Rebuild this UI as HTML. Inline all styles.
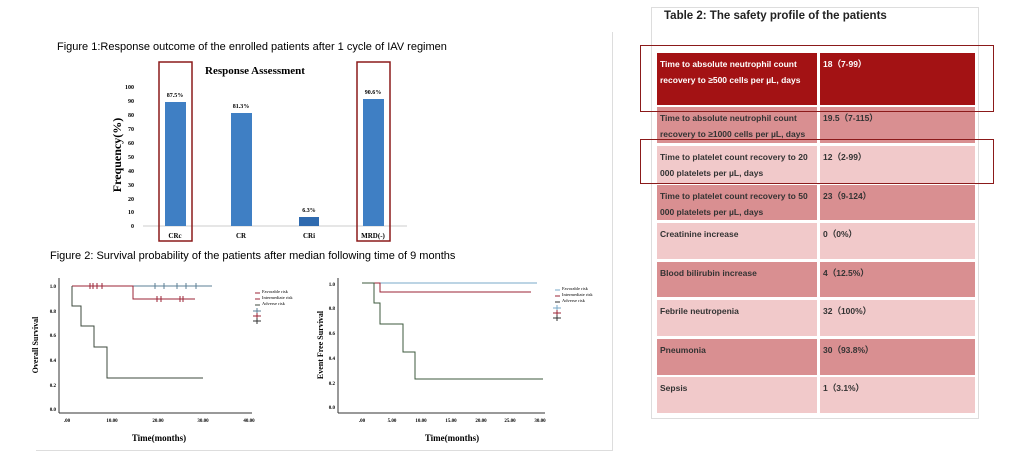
<!DOCTYPE html>
<html><head><meta charset="utf-8"><style>
body{margin:0;width:1024px;height:460px;background:#fff;position:relative;overflow:hidden;font-family:"Liberation Sans",sans-serif}
.t{position:absolute}
.r{position:absolute;left:657px;width:318px;font-size:8.5px;font-weight:bold;line-height:16px;overflow:hidden}
.r div{position:absolute;top:0;bottom:0;padding:3px 3px;box-sizing:border-box;overflow:hidden}
.r .a{left:0;width:160px}.r .b{left:163px;right:0}
.d div{background:#a31214;color:#fff}
.m div{background:#d98f91;color:#333}
.l div{background:#f1c9ca;color:#333}
</style></head><body>
<div class="t" style="left:36px;top:32px;width:576px;height:418px;border-right:1px solid #ddd;border-bottom:1px solid #ddd"></div>
<div class="t" style="left:57px;top:41px;font-size:11px">Figure 1:Response outcome of the enrolled patients after 1 cycle of IAV regimen</div>
<div class="t" style="left:50px;top:250px;font-size:11px">Figure 2: Survival probability of the patients after median following time of 9 months</div>
<svg class="t" style="left:0;top:0" width="620" height="460" font-family="Liberation Serif,serif" font-weight="bold">
<text x="255" y="74" font-size="11" text-anchor="middle">Response Assessment</text>
<g font-size="6" text-anchor="end">
<text x="134" y="89">100</text><text x="134" y="103">90</text><text x="134" y="117">80</text><text x="134" y="131">70</text><text x="134" y="145">60</text><text x="134" y="159">50</text><text x="134" y="173">40</text><text x="134" y="187">30</text><text x="134" y="201">20</text><text x="134" y="214">10</text><text x="134" y="228">0</text>
</g>
<text transform="translate(121,155) rotate(-90)" font-size="12" text-anchor="middle">Frequency(%)</text>
<line x1="143" y1="226" x2="407" y2="226" stroke="#ccc"/>
<g fill="#3f7fc4">
<rect x="165" y="102" width="21" height="124"/><rect x="231" y="113" width="21" height="113"/><rect x="299" y="217" width="20" height="9" fill="#2f6aaf"/><rect x="363" y="99" width="21" height="127"/>
</g>
<g font-size="6" text-anchor="middle">
<text x="175" y="97">87.5%</text><text x="241" y="108">81.3%</text><text x="309" y="212">6.3%</text><text x="373" y="94">90.6%</text>
<text x="175" y="238" font-size="7">CRc</text><text x="241" y="238" font-size="7">CR</text><text x="309" y="238" font-size="7">CRi</text><text x="373" y="238" font-size="7">MRD(-)</text>
</g>
<rect x="159" y="62" width="33" height="179" fill="none" stroke="#8b1a1a" stroke-width="1.5"/>
<rect x="357" y="62" width="33" height="179" fill="none" stroke="#8b1a1a" stroke-width="1.5"/>
<line x1="59" y1="278" x2="59" y2="413" stroke="#333"/><line x1="59" y1="413" x2="252" y2="413" stroke="#333"/>
<g font-size="5" text-anchor="end"><text x="56" y="288">1.0</text><text x="56" y="313">0.8</text><text x="56" y="337">0.6</text><text x="56" y="362">0.4</text><text x="56" y="387">0.2</text><text x="56" y="411">0.0</text></g>
<g font-size="5" text-anchor="middle"><text x="67" y="422">.00</text><text x="112" y="422">10.00</text><text x="158" y="422">20.00</text><text x="203" y="422">30.00</text><text x="249" y="422">40.00</text></g>
<text transform="translate(38,345) rotate(-90)" font-size="8" text-anchor="middle">Overall Survival</text>
<text x="159" y="441" font-size="9" text-anchor="middle">Time(months)</text>
<polyline points="72,286 212,286" fill="none" stroke="#5b7f95"/>
<polyline points="72,286 133,286 133,299 195,299" fill="none" stroke="#9b2335"/>
<polyline points="72,286 72,306 81,306 81,326 94,326 94,347 107,347 107,378 203,378" fill="none" stroke="#3c4a3c"/>
<g stroke="#9b2335"><line x1="90" y1="283" x2="90" y2="289"/><line x1="93" y1="283" x2="93" y2="289"/><line x1="97" y1="283" x2="97" y2="289"/><line x1="102" y1="283" x2="102" y2="289"/><line x1="157" y1="296" x2="157" y2="302"/><line x1="161" y1="296" x2="161" y2="302"/><line x1="180" y1="296" x2="180" y2="302"/><line x1="183" y1="296" x2="183" y2="302"/></g>
<g stroke="#5b7f95"><line x1="155" y1="283" x2="155" y2="289"/><line x1="164" y1="283" x2="164" y2="289"/><line x1="177" y1="283" x2="177" y2="289"/><line x1="186" y1="283" x2="186" y2="289"/><line x1="196" y1="283" x2="196" y2="289"/></g>
<g font-size="4.5" font-weight="normal"><text x="262" y="293">Favorable risk</text><text x="262" y="299">Intermediate risk</text><text x="262" y="305">Adverse risk</text></g>
<g stroke-width="1"><path d="M255,293h5M255,299h5" stroke="#9b2335"/><path d="M255,305h5" stroke="#3c4a3c"/><path d="M253,311h8M257,308v6" stroke="#5b7f95"/><path d="M253,316h8M257,313v6" stroke="#9b2335"/><path d="M253,321h8M257,318v6" stroke="#333"/></g>
<line x1="338" y1="278" x2="338" y2="413" stroke="#333"/><line x1="338" y1="413" x2="545" y2="413" stroke="#333"/>
<g font-size="5" text-anchor="end"><text x="335" y="286">1.0</text><text x="335" y="310">0.8</text><text x="335" y="335">0.6</text><text x="335" y="360">0.4</text><text x="335" y="385">0.2</text><text x="335" y="409">0.0</text></g>
<g font-size="5" text-anchor="middle"><text x="362" y="422">.00</text><text x="392" y="422">5.00</text><text x="421" y="422">10.00</text><text x="451" y="422">15.00</text><text x="481" y="422">20.00</text><text x="510" y="422">25.00</text><text x="540" y="422">30.00</text></g>
<text transform="translate(323,345) rotate(-90)" font-size="8" text-anchor="middle">Event Free Survival</text>
<text x="452" y="441" font-size="9" text-anchor="middle">Time(months)</text>
<polyline points="362,283 537,283" fill="none" stroke="#7aa9c9"/>
<polyline points="362,283 380,283 380,292 531,292" fill="none" stroke="#9b2335"/>
<polyline points="362,283 374,283 374,303 380,303 380,324 403,324 403,352 415,352 415,379 543,379" fill="none" stroke="#3c5a3c"/>
<g font-size="4.5" font-weight="normal"><text x="562" y="290">Favorable risk</text><text x="562" y="296">Intermediate risk</text><text x="562" y="302">Adverse risk</text></g>
<g><path d="M555,290h5" stroke="#7aa9c9"/><path d="M555,296h5" stroke="#9b2335"/><path d="M555,302h5" stroke="#333"/><path d="M553,308h8M557,305v6" stroke="#7aa9c9"/><path d="M553,313h8M557,310v6" stroke="#9b2335"/><path d="M553,318h8M557,315v6" stroke="#333"/></g>
</svg>
<div class="t" style="left:651px;top:7px;width:326px;height:410px;border:1px solid #ddd"></div>
<div class="t" style="left:664px;top:10px;font-size:11.5px;font-weight:bold;color:#222">Table 2: The safety profile of the patients</div>
<div class="r d" style="top:53px;height:52px"><div class="a">Time to absolute neutrophil count recovery to ≥500 cells per µL, days</div><div class="b">18（7-99）</div></div>
<div class="r m" style="top:107px;height:36px"><div class="a">Time to absolute neutrophil count recovery to ≥1000 cells per µL, days</div><div class="b">19.5（7-115）</div></div>
<div class="r l" style="top:146px;height:37px"><div class="a">Time to platelet count recovery to 20 000 platelets per µL, days</div><div class="b">12（2-99）</div></div>
<div class="r m" style="top:185px;height:35px"><div class="a">Time to platelet count recovery to 50 000 platelets per µL, days</div><div class="b">23（9-124）</div></div>
<div class="r l" style="top:223px;height:36px"><div class="a">Creatinine increase</div><div class="b">0（0%）</div></div>
<div class="r m" style="top:262px;height:35px"><div class="a">Blood bilirubin increase</div><div class="b">4（12.5%）</div></div>
<div class="r l" style="top:300px;height:36px"><div class="a">Febrile neutropenia</div><div class="b">32（100%）</div></div>
<div class="r m" style="top:339px;height:36px"><div class="a">Pneumonia</div><div class="b">30（93.8%）</div></div>
<div class="r l" style="top:377px;height:36px"><div class="a">Sepsis</div><div class="b">1（3.1%）</div></div>
<div class="t" style="left:640px;top:45px;width:352px;height:65px;border:1.5px solid #8b1a1a"></div>
<div class="t" style="left:640px;top:139px;width:352px;height:43px;border:1.5px solid #8b1a1a"></div>
</body></html>
